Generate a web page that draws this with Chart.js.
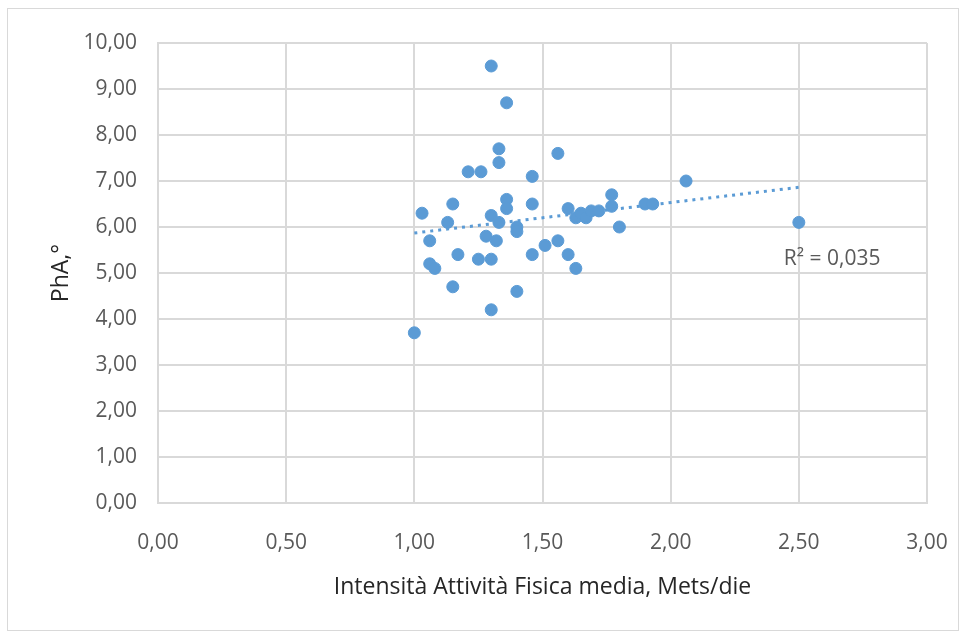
<!DOCTYPE html>
<html lang="it">
<head>
<meta charset="utf-8">
<title>PhA vs Intensità Attività Fisica</title>
<script src="https://cdn.jsdelivr.net/npm/chart.js@4/dist/chart.umd.min.js"></script>
<style>
  html, body { margin: 0; padding: 0; background: #ffffff; }
  #wrap { position: relative; width: 965px; height: 639px; }
  #frame { position: absolute; left: 7px; top: 8px; width: 952px; height: 623px; border: 1px solid #d9d9d9; box-sizing: border-box; pointer-events: none; }
  canvas { display: block; }
</style>
</head>
<body>
<div id="wrap">
  <canvas id="chart" width="965" height="639"></canvas>
  <div id="frame"></div>
</div>
<script>
// Intensità media dell'attività fisica (Mets/die) per soggetto
const intensita = [
  1.00, 1.03, 1.06, 1.06, 1.08, 1.13, 1.15, 1.15, 1.17, 1.21,
  1.26, 1.25, 1.28, 1.30, 1.30, 1.30, 1.30, 1.32, 1.33, 1.33,
  1.33, 1.36, 1.36, 1.36, 1.40, 1.40, 1.40, 1.46, 1.46, 1.46,
  1.51, 1.56, 1.56, 1.60, 1.60, 1.63, 1.63, 1.65, 1.67, 1.69,
  1.72, 1.77, 1.77, 1.80, 1.90, 1.93, 2.06, 2.50
];
// Angolo di fase (PhA, gradi) per soggetto
const pha = [
  3.70, 6.30, 5.70, 5.20, 5.10, 6.10, 6.50, 4.70, 5.40, 7.20,
  7.20, 5.30, 5.80, 9.50, 6.25, 5.30, 4.20, 5.70, 6.10, 7.70,
  7.40, 8.70, 6.60, 6.40, 6.00, 5.90, 4.60, 7.10, 6.50, 5.40,
  5.60, 7.60, 5.70, 6.40, 5.40, 5.10, 6.20, 6.30, 6.20, 6.35,
  6.35, 6.70, 6.45, 6.00, 6.50, 6.50, 7.00, 6.10
];
const xTicks = [0, 0.5, 1, 1.5, 2, 2.5, 3];
const yTicks = [0, 1, 2, 3, 4, 5, 6, 7, 8, 9, 10];
const r2Label = 'R² = 0,035';

// Retta di tendenza lineare (minimi quadrati)
function linearFit(xs, ys) {
  const n = xs.length;
  let sx = 0, sy = 0, sxx = 0, sxy = 0;
  for (let i = 0; i < n; i++) { sx += xs[i]; sy += ys[i]; sxx += xs[i] * xs[i]; sxy += xs[i] * ys[i]; }
  const b = (n * sxy - sx * sy) / (n * sxx - sx * sx);
  const a = (sy - b * sx) / n;
  return { a, b };
}
const fit = linearFit(intensita, pha);
const xMin = Math.min(...intensita), xMax = Math.max(...intensita);
const trend = [
  { x: xMin, y: fit.a + fit.b * xMin },
  { x: xMax, y: fit.a + fit.b * xMax }
];

const points = intensita.map((x, i) => ({ x, y: pha[i] }));
const fmt = v => v.toFixed(2).replace('.', ',');
const BLUE = '#5b9bd5';
const GRID = '#d9d9d9';
const FONT = "'Open Sans', sans-serif";

const r2Plugin = {
  id: 'r2Label',
  afterDatasetsDraw(chart) {
    const { ctx, scales } = chart;
    ctx.save();
    ctx.font = '21px ' + FONT;
    ctx.fillStyle = '#595959';
    ctx.textAlign = 'left';
    ctx.textBaseline = 'middle';
    ctx.fillText(r2Label, scales.x.getPixelForValue(xMax) - 15, scales.y.getPixelForValue(5.3));
    ctx.restore();
  }
};

new Chart(document.getElementById('chart'), {
  type: 'scatter',
  data: {
    datasets: [
      {
        label: 'PhA',
        data: points,
        backgroundColor: BLUE,
        borderColor: BLUE,
        borderWidth: 1,
        pointRadius: 6,
        pointHoverRadius: 6
      },
      {
        label: 'Tendenza',
        data: trend,
        showLine: true,
        borderColor: BLUE,
        borderWidth: 3,
        borderDash: [3, 5],
        pointRadius: 0,
        fill: false
      }
    ]
  },
  options: {
    responsive: false,
    animation: false,
    devicePixelRatio: 1,
    layout: { padding: { left: 0, top: 43, right: 38, bottom: 0 } },
    plugins: { legend: { display: false }, tooltip: { enabled: false } },
    scales: {
      x: {
        type: 'linear',
        min: 0, max: 3,
        afterBuildTicks(scale) { scale.ticks = xTicks.map(v => ({ value: v })); },
        afterFit(scale) { scale.height = 136; scale.paddingLeft = 0; scale.paddingRight = 0; },
        grid: { color: GRID, lineWidth: 2, drawTicks: false },
        border: { color: GRID, width: 2 },
        ticks: { color: '#595959', font: { family: FONT, size: 21 }, padding: 27, maxRotation: 0, callback: v => fmt(v) },
        title: { display: true, text: 'Intensità Attività Fisica media, Mets/die', color: '#262626', font: { family: FONT, size: 23 }, padding: { top: 0, bottom: 38 } }
      },
      y: {
        type: 'linear',
        min: 0, max: 10,
        afterBuildTicks(scale) { scale.ticks = yTicks.map(v => ({ value: v })); },
        afterFit(scale) { scale.width = 158; scale.paddingTop = 0; scale.paddingBottom = 0; },
        grid: { color: GRID, lineWidth: 2, drawTicks: false },
        border: { color: GRID, width: 2 },
        ticks: { color: '#595959', font: { family: FONT, size: 21 }, padding: 21, callback: v => fmt(v) },
        title: { display: true, text: 'PhA,°', color: '#262626', font: { family: FONT, size: 23 }, padding: { top: 48, bottom: 0 } }
      }
    }
  },
  plugins: [r2Plugin]
});
</script>
</body>
</html>
